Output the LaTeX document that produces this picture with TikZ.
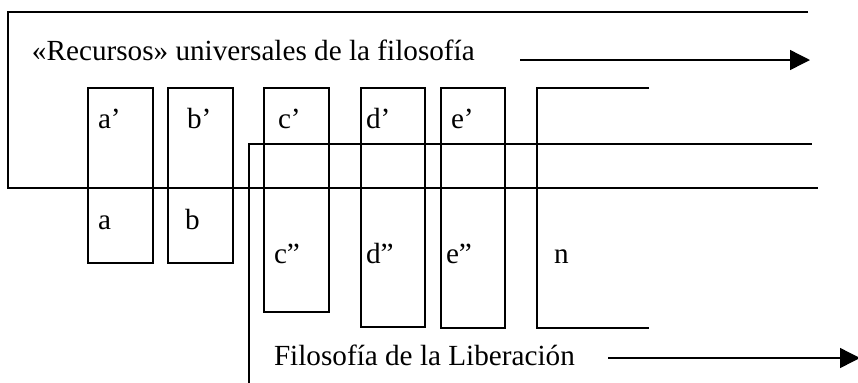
\documentclass[tikz,border=0pt]{standalone}
\usepackage{fontspec}
\setmainfont{Liberation Serif}
\usetikzlibrary{arrows.meta}

\begin{document}
\begin{tikzpicture}[x=0.5pt, y=-0.5pt, line width=0.7pt,
    every node/.style={font=\fontsize{14.6}{17}\selectfont, inner sep=0pt, outer sep=0pt},
    col/.style={draw, anchor=north west, minimum width=32.5pt},
    lbl/.style={anchor=base west},
    big arrow/.style={-{Triangle[length=10pt, width=10pt]}}]
      \useasboundingbox (0,0) rectangle (858,382);

      % Outer frame: universal resources
      \draw (808,12) -- (8,12) -- (8,188) -- (818,188);
      \node[lbl] (recursos) at (32,60) {«Recursos» universales de la filosofía};
      \coordinate (rstart) at (520,60);
      \coordinate (rend) at (810,60);
      \draw[big arrow] (rstart) -- (rend);

      % Inner frame: philosophy of liberation
      \draw (249,384) -- (249,144) -- (812,144);
      \node[lbl] (liberacion) at (274,365) {Filosofía de la Liberación};
      \coordinate (lstart) at (608,358);
      \coordinate (lend) at (860,358);
      \draw[big arrow] (lstart) -- (lend);

      % Columns
      \node[col, minimum height=87.5pt] (cola) at (88,88) {};
      \node[col, minimum height=87.5pt] (colb) at (168,88) {};
      \node[col, minimum height=112pt] (colc) at (264,88) {};
      \node[col, minimum height=119.5pt, minimum width=32pt] (cold) at (361,88) {};
      \node[col, minimum height=120pt, minimum width=32pt] (cole) at (441,88) {};
      \draw (649,88) -- (537,88) -- (537,328) -- (649,328);

      % Upper labels
      \node[lbl] (ap) at (98,128) {a’};
      \node[lbl] (bp) at (187,128) {b’};
      \node[lbl] (cp) at (278,128) {c’};
      \node[lbl] (dp) at (366,128) {d’};
      \node[lbl] (ep) at (451,128) {e’};

      % Lower labels
      \node[lbl] (la) at (98,229) {a};
      \node[lbl] (lb) at (185,229) {b};
      \node[lbl] (cpp) at (274,263) {c”};
      \node[lbl] (dpp) at (366,263) {d”};
      \node[lbl] (epp) at (446,263) {e”};
      \node[lbl] (ln) at (554,263) {n};
    \end{tikzpicture}
\end{document}
